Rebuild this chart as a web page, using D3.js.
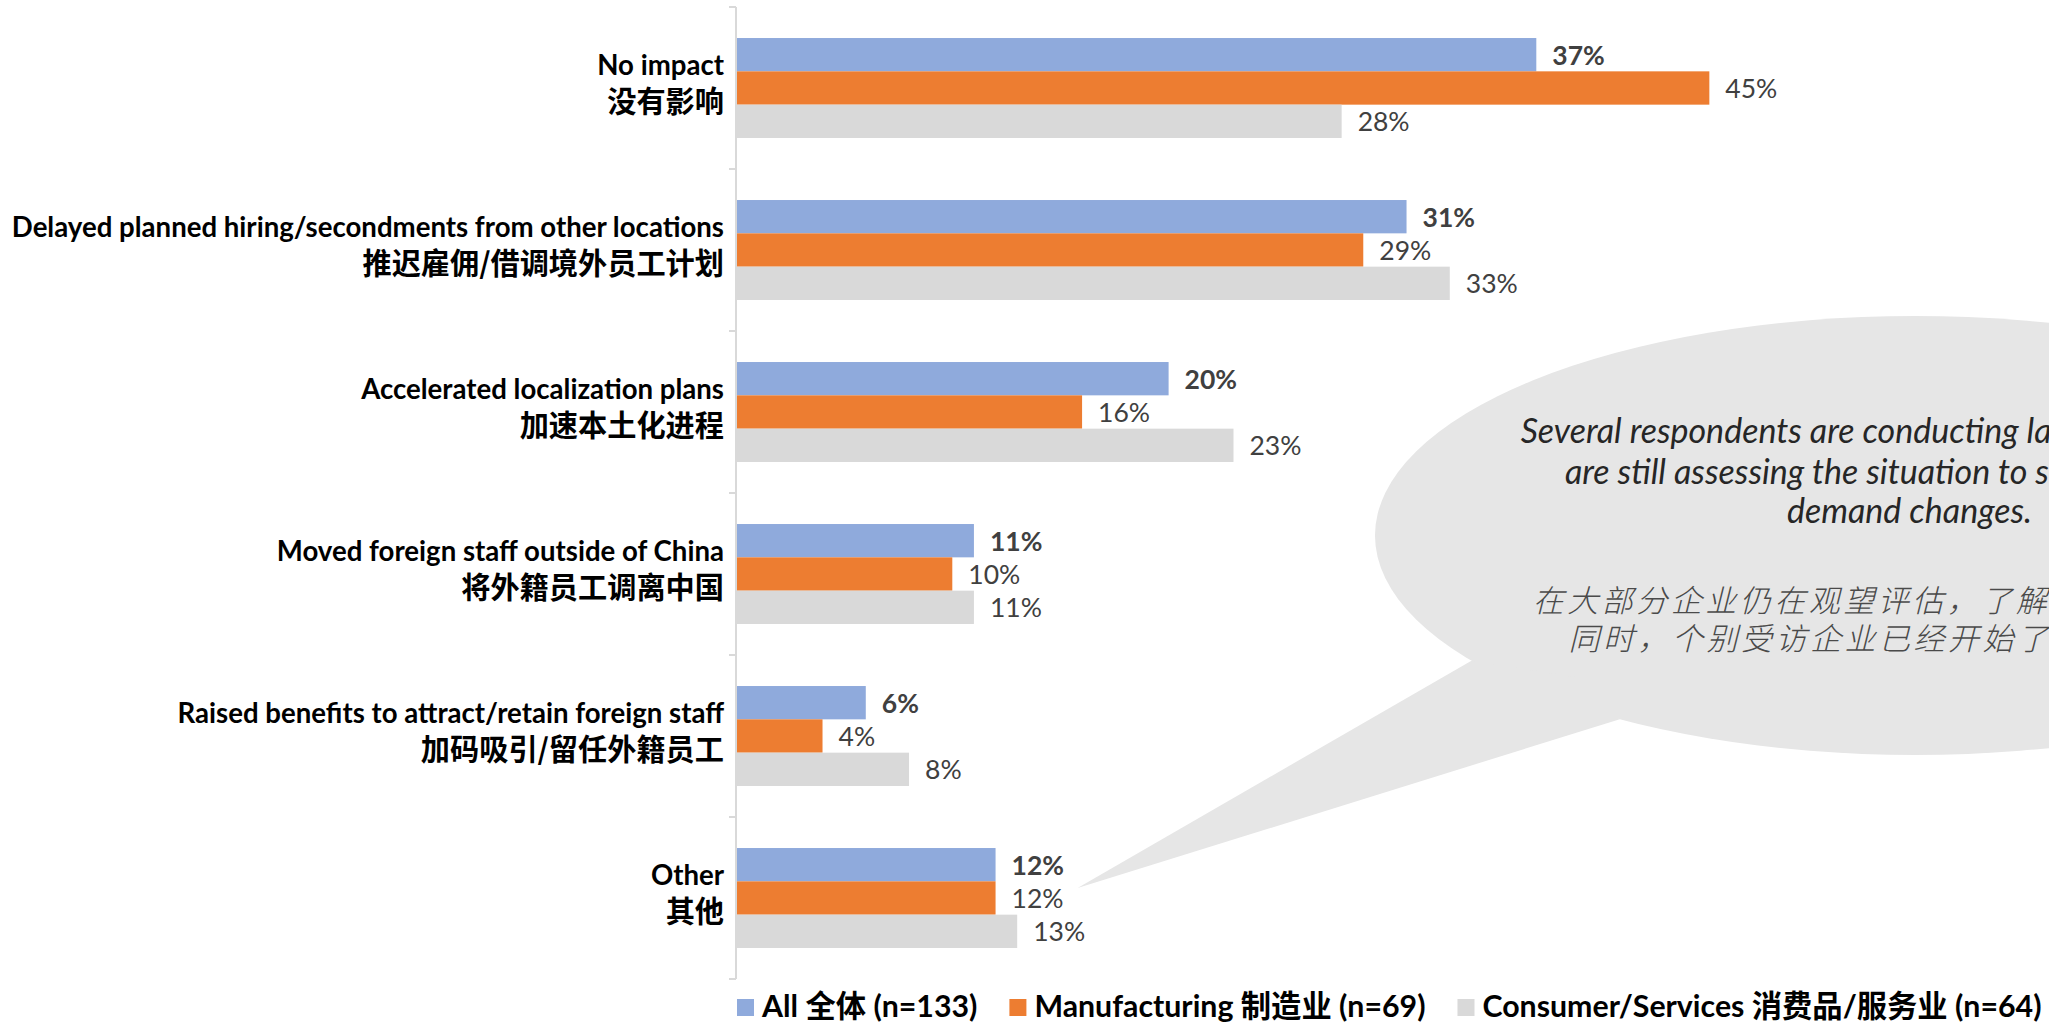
<!DOCTYPE html>
<html><head><meta charset="utf-8">
<script src="https://cdn.jsdelivr.net/npm/d3@7"></script>
<style>
html,body{margin:0;padding:0;background:#fff;overflow:hidden}
svg{display:block}
</style></head><body>
<svg id="c" width="2049" height="1030"></svg>
<script>
// ---- data ----
const categoriesEn = ["No impact","Delayed planned hiring/secondments from other locations","Accelerated localization plans","Moved foreign staff outside of China","Raised benefits to attract/retain foreign staff","Other"];
const categoriesZh = ["没有影响","推迟雇佣/借调境外员工计划","加速本土化进程","将外籍员工调离中国","加码吸引/留任外籍员工","其他"];
const seriesKeys = ["all","mfg","cs"];
const seriesLabels = ["All 全体 (n=133)","Manufacturing 制造业 (n=69)","Consumer/Services 消费品/服务业 (n=64)"];
const valuesAll = [37,31,20,11,6,12];
const valuesMfg = [45,29,16,10,4,12];
const valuesCS  = [28,33,23,11,8,13];
const calloutEn = ["Several respondents are conducting layoffs, while most","are still assessing the situation to see how business","demand changes."];
const calloutZh = ["在大部分企业仍在观望评估，了解业务需求变化的","同时，个别受访企业已经开始了裁员。"];

const seriesValues = {all: valuesAll, mfg: valuesMfg, cs: valuesCS};
const colors = {all:"#8FAADC", mfg:"#ED7D31", cs:"#D9D9D9"};
const LATIN = "Lato, 'Noto Sans CJK SC', sans-serif";
const CJK = "'Noto Sans CJK SC', sans-serif";

const svg = d3.select("#c");
const x = d3.scaleLinear().domain([0,100]).range([736, 736 + 2163]);
const y0 = d3.scaleBand().domain(d3.range(categoriesEn.length)).range([7, 979]).paddingInner(0.383).paddingOuter(0.1915);
const y1 = d3.scaleBand().domain(seriesKeys).range([0, y0.bandwidth()]);

// ---- callout bubble ----
const ell = {cx:1915, cy:535.5, rx:540, ry:219.5};
const bubble = svg.append("g");
const ptOn = (a, k) => [ell.cx + ell.rx*k*Math.cos(a), ell.cy + ell.ry*k*Math.sin(a)];
const a1 = Math.atan2(0.572, -0.824), a2 = Math.atan2(0.844, -0.551);
const tip = [1077.6, 888];
bubble.append("ellipse").attr("cx", ell.cx).attr("cy", ell.cy).attr("rx", ell.rx).attr("ry", ell.ry).attr("fill", "#E6E6E6");
const p1 = ptOn(a1, 1), p2 = ptOn(a2, 1), pc = ptOn((a1+a2)/2, 0.9);
bubble.append("path").attr("d", `M${p1}L${tip}L${p2}L${pc}Z`).attr("fill", "#E6E6E6");

const enStarts = [[1520.7, 443], [1565, 484]];
calloutEn.forEach((t, i) => {
  const tx = bubble.append("text").text(t).attr("font-family", LATIN).attr("font-style", "italic")
    .attr("font-size", 34).attr("fill", "#262626");
  if (i < 2) tx.attr("x", enStarts[i][0]).attr("y", enStarts[i][1]);
  else tx.attr("x", 1909.5).attr("y", 523).attr("text-anchor", "middle");
});
const zhStarts = [[1532.8, 612], [1568.5, 650]];
calloutZh.forEach((t, i) => {
  bubble.append("text").text(t).attr("x", zhStarts[i][0]).attr("y", zhStarts[i][1])
    .attr("font-family", CJK).attr("font-style", "italic").attr("font-weight", 300)
    .attr("font-size", 31).attr("letter-spacing", 3.5).attr("fill", "#4a4a4a");
});

// ---- bars ----
const groups = svg.append("g").selectAll("g").data(d3.range(categoriesEn.length)).join("g")
  .attr("transform", i => `translate(0,${y0(i)})`);
groups.selectAll("rect").data(i => seriesKeys.map(k => ({k, v: seriesValues[k][i]}))).join("rect")
  .attr("x", x(0)).attr("y", d => y1(d.k)).attr("height", y1.bandwidth())
  .attr("width", d => x(d.v) - x(0)).attr("fill", d => colors[d.k]);
groups.selectAll("text.val").data(i => seriesKeys.map(k => ({k, v: seriesValues[k][i]}))).join("text")
  .attr("class", "val")
  .attr("x", d => x(d.v) + 16).attr("y", d => y1(d.k) + y1.bandwidth()/2)
  .attr("dominant-baseline", "central")
  .attr("font-family", LATIN).attr("font-size", 26.5)
  .attr("font-weight", d => d.k === "all" ? 700 : 400)
  .attr("fill", "#404040").text(d => d.v + "%");

// ---- axis ----
const axis = svg.append("g");
axis.append("line").attr("x1", x(0)).attr("x2", x(0)).attr("y1", 7).attr("y2", 979)
  .attr("stroke", "#D9D9D9").attr("stroke-width", 2);
axis.selectAll("line.tick").data(d3.range(categoriesEn.length + 1)).join("line").attr("class", "tick")
  .attr("x1", x(0) - 7).attr("x2", x(0)).attr("y1", i => 7 + i*y0.step()).attr("y2", i => 7 + i*y0.step())
  .attr("stroke", "#D9D9D9").attr("stroke-width", 2);

// ---- category labels ----
const labels = svg.append("g");
categoriesEn.forEach((t, i) => {
  const c = y0(i) + y0.bandwidth()/2;
  labels.append("text").text(t).attr("x", 724).attr("y", c - 13).attr("text-anchor", "end")
    .attr("font-family", LATIN).attr("font-weight", 700).attr("font-size", 27.6).attr("fill", "#000");
  labels.append("text").text(categoriesZh[i]).attr("x", 724).attr("y", c + 24).attr("text-anchor", "end")
    .attr("font-family", CJK).attr("font-weight", 700).attr("font-size", 29.2).attr("fill", "#000");
});

// ---- legend ----
const legend = svg.append("g");
let cursor = 737;
seriesKeys.forEach((k, i) => {
  legend.append("rect").attr("x", cursor).attr("y", 999).attr("width", 17).attr("height", 17).attr("fill", colors[k]);
  const t = legend.append("text").text(seriesLabels[i]).attr("x", cursor + 25).attr("y", 1017)
    .attr("font-family", LATIN).attr("font-weight", 700).attr("font-size", 30.3).attr("fill", "#000");
  cursor += 25 + t.node().getComputedTextLength() + 32;
});
</script>
</body></html>
